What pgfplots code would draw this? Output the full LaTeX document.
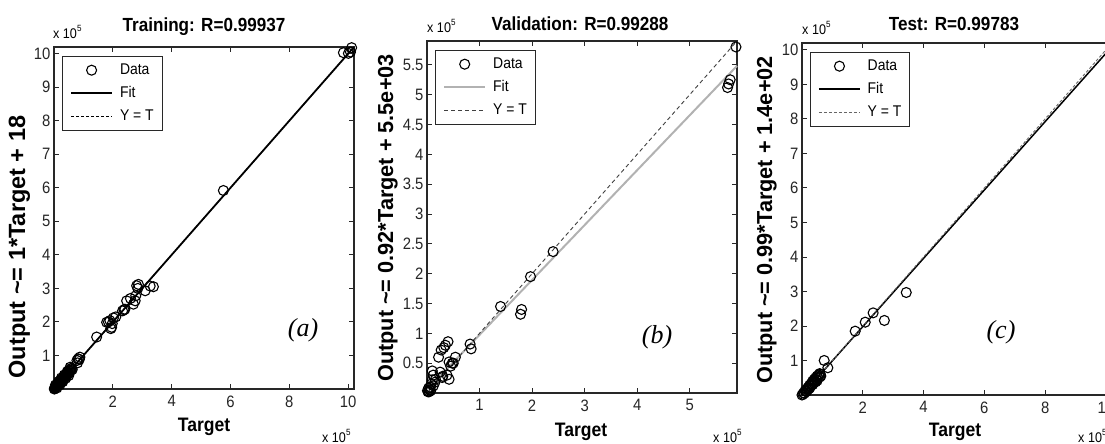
\documentclass[border=0pt]{standalone}
\usepackage{pgfplots}
\pgfplotsset{compat=1.18}
\usepackage{fontspec}
\setmainfont{Liberation Sans}[FakeStretch=0.9]
\newfontfamily\rotsans{Liberation Sans}
\newfontfamily\labelserif{Liberation Serif}
\definecolor{fitgray}{RGB}{178,178,178}
\definecolor{framec}{RGB}{40,40,40}
\pgfplotsset{
  panel/.style={
    scale only axis, anchor=south west, clip=false,
    axis line style={line width=1.4pt, framec},
    every tick/.style={line width=0.9pt, framec},
    tick align=inside, major tick length=5pt,
    scaled ticks=false,
    /pgf/number format/assume math mode=true,
    tick label style={font=\fontsize{16.5}{16.5}\selectfont, text=black!85},
    xticklabel style={yshift=-3pt},
    legend cell align=left,
    legend style={at={(0,1)}, anchor=north west, xshift=8pt, yshift=-9pt,
      draw=framec, font=\fontsize{15.5}{15.5}\selectfont,
      inner xsep=8pt, inner ysep=7pt, row sep=9pt, column sep=7pt,
      nodes={inner sep=0pt, text height=11pt, text depth=3pt}},
    legend image code/.code={\draw[mark repeat=2, mark phase=2, #1] plot coordinates {(0pt,0pt) (20.5pt,0pt) (41pt,0pt)};},
  },
  datastyle/.style={only marks, mark=o, mark size=5pt, mark options={line width=1.1pt, draw=black, solid}},
}
\tikzset{
  ttl/.style={font=\bfseries\fontsize{19}{19}\selectfont, anchor=base},
  xlab/.style={font=\bfseries\fontsize{19.5}{19.5}\selectfont, anchor=base},
  ylab/.style={font=\rotsans\bfseries\fontsize{#1}{#1}\selectfont, anchor=base, rotate=90},
  tag/.style={font=\labelserif\itshape\fontsize{26}{26}\selectfont, anchor=center},
  expo/.style={font=\fontsize{14}{14}\selectfont, anchor=base west, inner sep=0pt},
}
\newcommand{\expo}{x 10\raisebox{7pt}{\fontsize{9}{9}\selectfont 5}}
\begin{document}
\begin{tikzpicture}
\path[use as bounding box] (0pt,0pt) rectangle (1105pt,444pt);
% ---------------- (a) Training ----------------
\begin{axis}[panel, at={(54pt,55pt)}, width=300pt, height=342pt,
  xmin=0, xmax=10.2, ymin=0, ymax=10.2,
  xtick={2,4,6,8,10}, ytick={1,2,3,4,5,6,7,8,9,10}]
\addplot[datastyle] coordinates {
(0.01,0.00) (0.02,0.03) (0.03,0.01) (0.04,0.05) (0.05,0.04) (0.06,0.08) (0.07,0.06) (0.08,0.10) (0.09,0.07) (0.10,0.12)
(0.11,0.09) (0.12,0.14) (0.13,0.11) (0.14,0.16) (0.15,0.13) (0.16,0.18) (0.17,0.15) (0.18,0.20) (0.19,0.17) (0.20,0.22)
(0.21,0.19) (0.22,0.24) (0.23,0.21) (0.24,0.26) (0.25,0.23) (0.26,0.28) (0.27,0.25) (0.28,0.30) (0.29,0.27) (0.30,0.32)
(0.31,0.29) (0.32,0.34) (0.33,0.31) (0.34,0.36) (0.35,0.33) (0.36,0.38) (0.37,0.35) (0.38,0.40) (0.39,0.37) (0.40,0.42)
(0.41,0.39) (0.42,0.44) (0.43,0.41) (0.44,0.46) (0.45,0.43) (0.46,0.48) (0.47,0.45) (0.48,0.50) (0.50,0.47) (0.52,0.55)
(0.54,0.52) (0.56,0.60) (0.58,0.56) (0.60,0.62) (0.62,0.58) (0.05,0.12) (0.10,0.03) (0.15,0.22) (0.20,0.12) (0.25,0.33)
(0.30,0.22) (0.35,0.42) (0.40,0.32) (0.45,0.52) (0.50,0.40) (0.55,0.65)
(0.78,0.85) (0.82,0.90) (0.86,0.88) (0.88,0.95) (0.80,0.78)
(1.45,1.55) (1.79,1.99) (1.85,2.00) (1.90,2.04) (1.96,1.84) (1.93,1.80) (1.98,1.95) (2.02,2.12) (2.10,2.15)
(2.33,2.33) (2.38,2.36) (2.41,2.38) (2.47,2.63) (2.60,2.70) (2.70,2.53) (2.76,2.63) (2.78,2.78)
(2.81,3.08) (2.87,3.12) (2.85,3.00) (3.10,2.93) (3.27,3.07) (3.38,3.05)
(5.76,5.92) (9.84,10.03) (10.01,10.01) (10.08,10.05) (10.12,10.18)
};
\addlegendentry{Data}
\addplot[black, line width=1.8pt] coordinates {(0,0.0002) (10.2,10.2002)};
\addlegendentry{Fit}
\addplot[black, line width=0.9pt, dash pattern=on 3pt off 2pt] coordinates {(0,0) (10.2,10.2)};
\addlegendentry{Y = T}
\end{axis}
\node[ttl] at (204pt,412pt) {Training: R=0.99937};
\node[ylab=23.5] at (25pt,197pt) {Output \char`\~= 1*Target + 18};
\node[xlab] at (204pt,12pt) {Target};
\node[expo] at (53pt,405pt) {\expo};
\node[expo] at (322pt,1pt) {\expo};
\node[tag] at (303pt,114pt) {(a)};
% ---------------- (b) Validation ----------------
\begin{axis}[panel, at={(427pt,51pt)}, width=310pt, height=352pt,
  xmin=0, xmax=5.9, ymin=0, ymax=5.9,
  xtick={1,2,3,4,5}, ytick={0.5,1,1.5,2,2.5,3,3.5,4,4.5,5,5.5}]
\addplot[datastyle] coordinates {
(5.88,5.80) (5.72,5.12) (5.77,5.25) (5.74,5.18) (2.40,2.37) (1.97,1.95) (1.40,1.45) (1.80,1.40) (1.78,1.32)
(0.82,0.82) (0.84,0.74) (0.40,0.86) (0.35,0.80) (0.32,0.76) (0.27,0.72) (0.22,0.60) (0.54,0.60) (0.48,0.50)
(0.45,0.45) (0.42,0.52) (0.50,0.50) (0.42,0.23) (0.38,0.30) (0.30,0.28) (0.29,0.26) (0.25,0.35) (0.16,0.23)
(0.10,0.37) (0.12,0.30) (0.10,0.22) (0.08,0.15) (0.06,0.10) (0.05,0.05) (0.03,0.08) (0.02,0.02) (0.04,0.02)
(0.01,0.04) (0.07,0.04) (0.12,0.12) (0.15,0.18)
};
\addlegendentry{Data}
\addplot[fitgray, line width=2pt] coordinates {(0,0.055) (5.9,5.483)};
\addlegendentry{Fit}
\addplot[black!75, line width=0.9pt, dash pattern=on 4pt off 3pt] coordinates {(0,0) (5.9,5.9)};
\addlegendentry{Y = T}
\end{axis}
\node[ttl] at (580pt,413pt) {Validation: R=0.99288};
\node[ylab=21.7] at (393pt,226pt) {Output \char`\~= 0.92*Target + 5.5e+03};
\node[xlab] at (581pt,7pt) {Target};
\node[expo] at (427pt,411pt) {\expo};
\node[expo] at (713pt,1pt) {\expo};
\node[tag] at (657pt,107pt) {(b)};
% ---------------- (c) Test ----------------
\begin{axis}[panel, at={(802pt,49pt)}, width=310pt, height=352pt,
  xmin=0, xmax=10.2, ymin=0, ymax=10.2,
  xtick={2,4,6,8,10}, ytick={1,2,3,4,5,6,7,8,9,10}]
\addplot[datastyle] coordinates {
(3.43,2.97) (2.71,2.16) (2.34,2.38) (2.08,2.11) (1.75,1.85) (0.73,1.00) (0.85,0.79)
(0.00,0.00) (0.03,0.02) (0.05,0.06) (0.08,0.05) (0.10,0.12) (0.12,0.10) (0.15,0.17) (0.18,0.15) (0.20,0.22)
(0.22,0.18) (0.25,0.28) (0.28,0.25) (0.30,0.33) (0.33,0.30) (0.35,0.40) (0.38,0.35) (0.40,0.45) (0.42,0.40)
(0.45,0.50) (0.48,0.45) (0.50,0.55) (0.52,0.50) (0.55,0.58) (0.58,0.52) (0.60,0.60) (0.45,0.38) (0.35,0.30)
(0.50,0.42) (0.58,0.62) (0.62,0.55) (0.25,0.20) (0.15,0.10)
};
\addlegendentry{Data}
\addplot[black, line width=1.5pt] coordinates {(0,0.0014) (10.2,10.0994)};
\addlegendentry{Fit}
\addplot[black!60, line width=0.9pt, dash pattern=on 3pt off 2pt] coordinates {(0,0) (10.2,10.2)};
\addlegendentry{Y = T}
\end{axis}
\node[ttl] at (954pt,413pt) {Test: R=0.99783};
\node[ylab=21.7] at (772pt,224pt) {Output \char`\~= 0.99*Target + 1.4e+02};
\node[xlab] at (955pt,7pt) {Target};
\node[expo] at (802pt,409pt) {\expo};
\node[expo] at (1078pt,1pt) {\expo};
\node[tag] at (1001pt,112pt) {(c)};
\end{tikzpicture}
\end{document}
